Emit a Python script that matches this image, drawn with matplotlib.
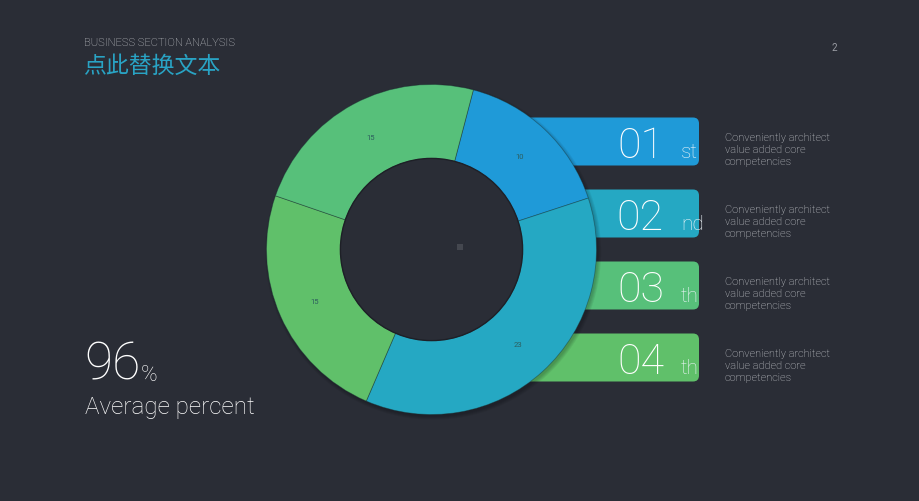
import matplotlib
matplotlib.use("Agg")
import matplotlib.pyplot as plt
from matplotlib.patches import FancyBboxPatch, Circle, Rectangle

# chart data
slice_values = [10, 23, 15, 15]
slice_colors = ["#1f9ad8", "#25a8c3", "#60c06a", "#57c07a"]
tab_numbers = ["01", "02", "03", "04"]
tab_suffixes = ["st", "nd", "th", "th"]
tab_colors = ["#1f9ad8", "#25a8c3", "#57c07a", "#60c06a"]
tab_text = "Conveniently architect\nvalue added core\ncompetencies"
headline_value = 96
headline_label = "Average percent"
title_en = "BUSINESS SECTION ANALYSIS"
title_cn = "点此替换文本"
page_no = "2"

BG = "#2a2d36"
W, H = 920, 502
FONT = ["Roboto", "DejaVu Sans"]

plt.rcParams["font.family"] = FONT

fig = plt.figure(figsize=(W / 100, H / 100), dpi=100, facecolor=BG)

# background axes in pixel coordinates (y pointing down)
ax = fig.add_axes([0, 0, 1, 1])
ax.set_xlim(0, W)
ax.set_ylim(H, 0)
ax.axis("off")
ax.set_facecolor(BG)

# header
ax.text(84, 43, title_en, color="#d0d2d6", fontsize=8, va="center", ha="left",
        fontweight="light")
ax.text(83, 66, title_cn, color="#29a3c4", fontsize=16.5, va="center", ha="left",
        family=["Noto Sans CJK SC", "DejaVu Sans"], fontweight="light")
ax.text(832, 48, page_no, color="#9a9ca3", fontsize=7, va="center", ha="left")

# numbered tabs on the right (drawn first, donut covers their left ends)
tab_x0, tab_x1 = 500, 699
tab_h = 48
for i, (num, suf, col) in enumerate(zip(tab_numbers, tab_suffixes, tab_colors)):
    top = 118.5 + i * 72
    ax.add_patch(FancyBboxPatch((tab_x0, top), tab_x1 - tab_x0, tab_h,
                                boxstyle="round,pad=0,rounding_size=6",
                                fc=col, ec="none", zorder=1))
    base = top + tab_h - 8.5
    ax.text(664, base, num, color="white", fontsize=31, ha="right", va="baseline",
            fontweight="light", zorder=2)
    ax.text(681, base, suf, color="#eef6fa", fontsize=15, ha="left", va="baseline",
            fontweight="light", zorder=2)
    ax.text(725, top + tab_h / 2 + 7.5, tab_text, color="#d4d6da", fontsize=7.9,
            ha="left", va="center", linespacing=1.2, fontweight="light")

# headline figure
ax.text(84, 380, str(headline_value), color="white", fontsize=37, ha="left",
        va="baseline", fontweight="light")
ax.text(141, 381, "%", color="white", fontsize=16, ha="left", va="baseline",
        fontweight="light")
ax.text(85, 414, headline_label, color="white", fontsize=17.5, ha="left",
        va="baseline", fontweight="light")

# donut
cx, cy, r = 431.5, 250.5, 165
lim = 1.1
ax_pie = fig.add_axes([(cx - r * lim) / W, (H - cy - r * lim) / H,
                       2 * r * lim / W, 2 * r * lim / H])
ax_pie.axis("off")

# soft drop shadow
for k in range(4):
    ax_pie.add_patch(Circle((0.01, -0.014), 1.0 + 0.006 * k, fc="black",
                            ec="none", alpha=0.06, zorder=0))

total = sum(slice_values)
start = 90 - 14.7
wedges, _, autotexts = ax_pie.pie(
    slice_values, colors=slice_colors, startangle=start, counterclock=False,
    radius=1.0, autopct=lambda p: f"{p * total / 100:.0f}", pctdistance=0.776,
    wedgeprops=dict(width=0.448, edgecolor=(0.1, 0.2, 0.2, 0.45), linewidth=0.6),
    textprops=dict(color="#2d5e5e", fontsize=5.5))
for w in wedges:
    w.set_zorder(2)
for t in autotexts:
    t.set_zorder(3)

hole_r = 0.552
ax_pie.add_patch(Circle((0, 0), hole_r, fc=BG, ec="#1e2027", lw=1.0, zorder=2))
ax_pie.add_patch(Rectangle((0.155, -0.004), 0.035, 0.035, fc="#44474f",
                           ec="none", zorder=3))

ax_pie.set_xlim(-lim, lim)
ax_pie.set_ylim(-lim, lim)
ax_pie.set_aspect("auto")

fig.savefig("out.png", dpi=100, facecolor=BG)
